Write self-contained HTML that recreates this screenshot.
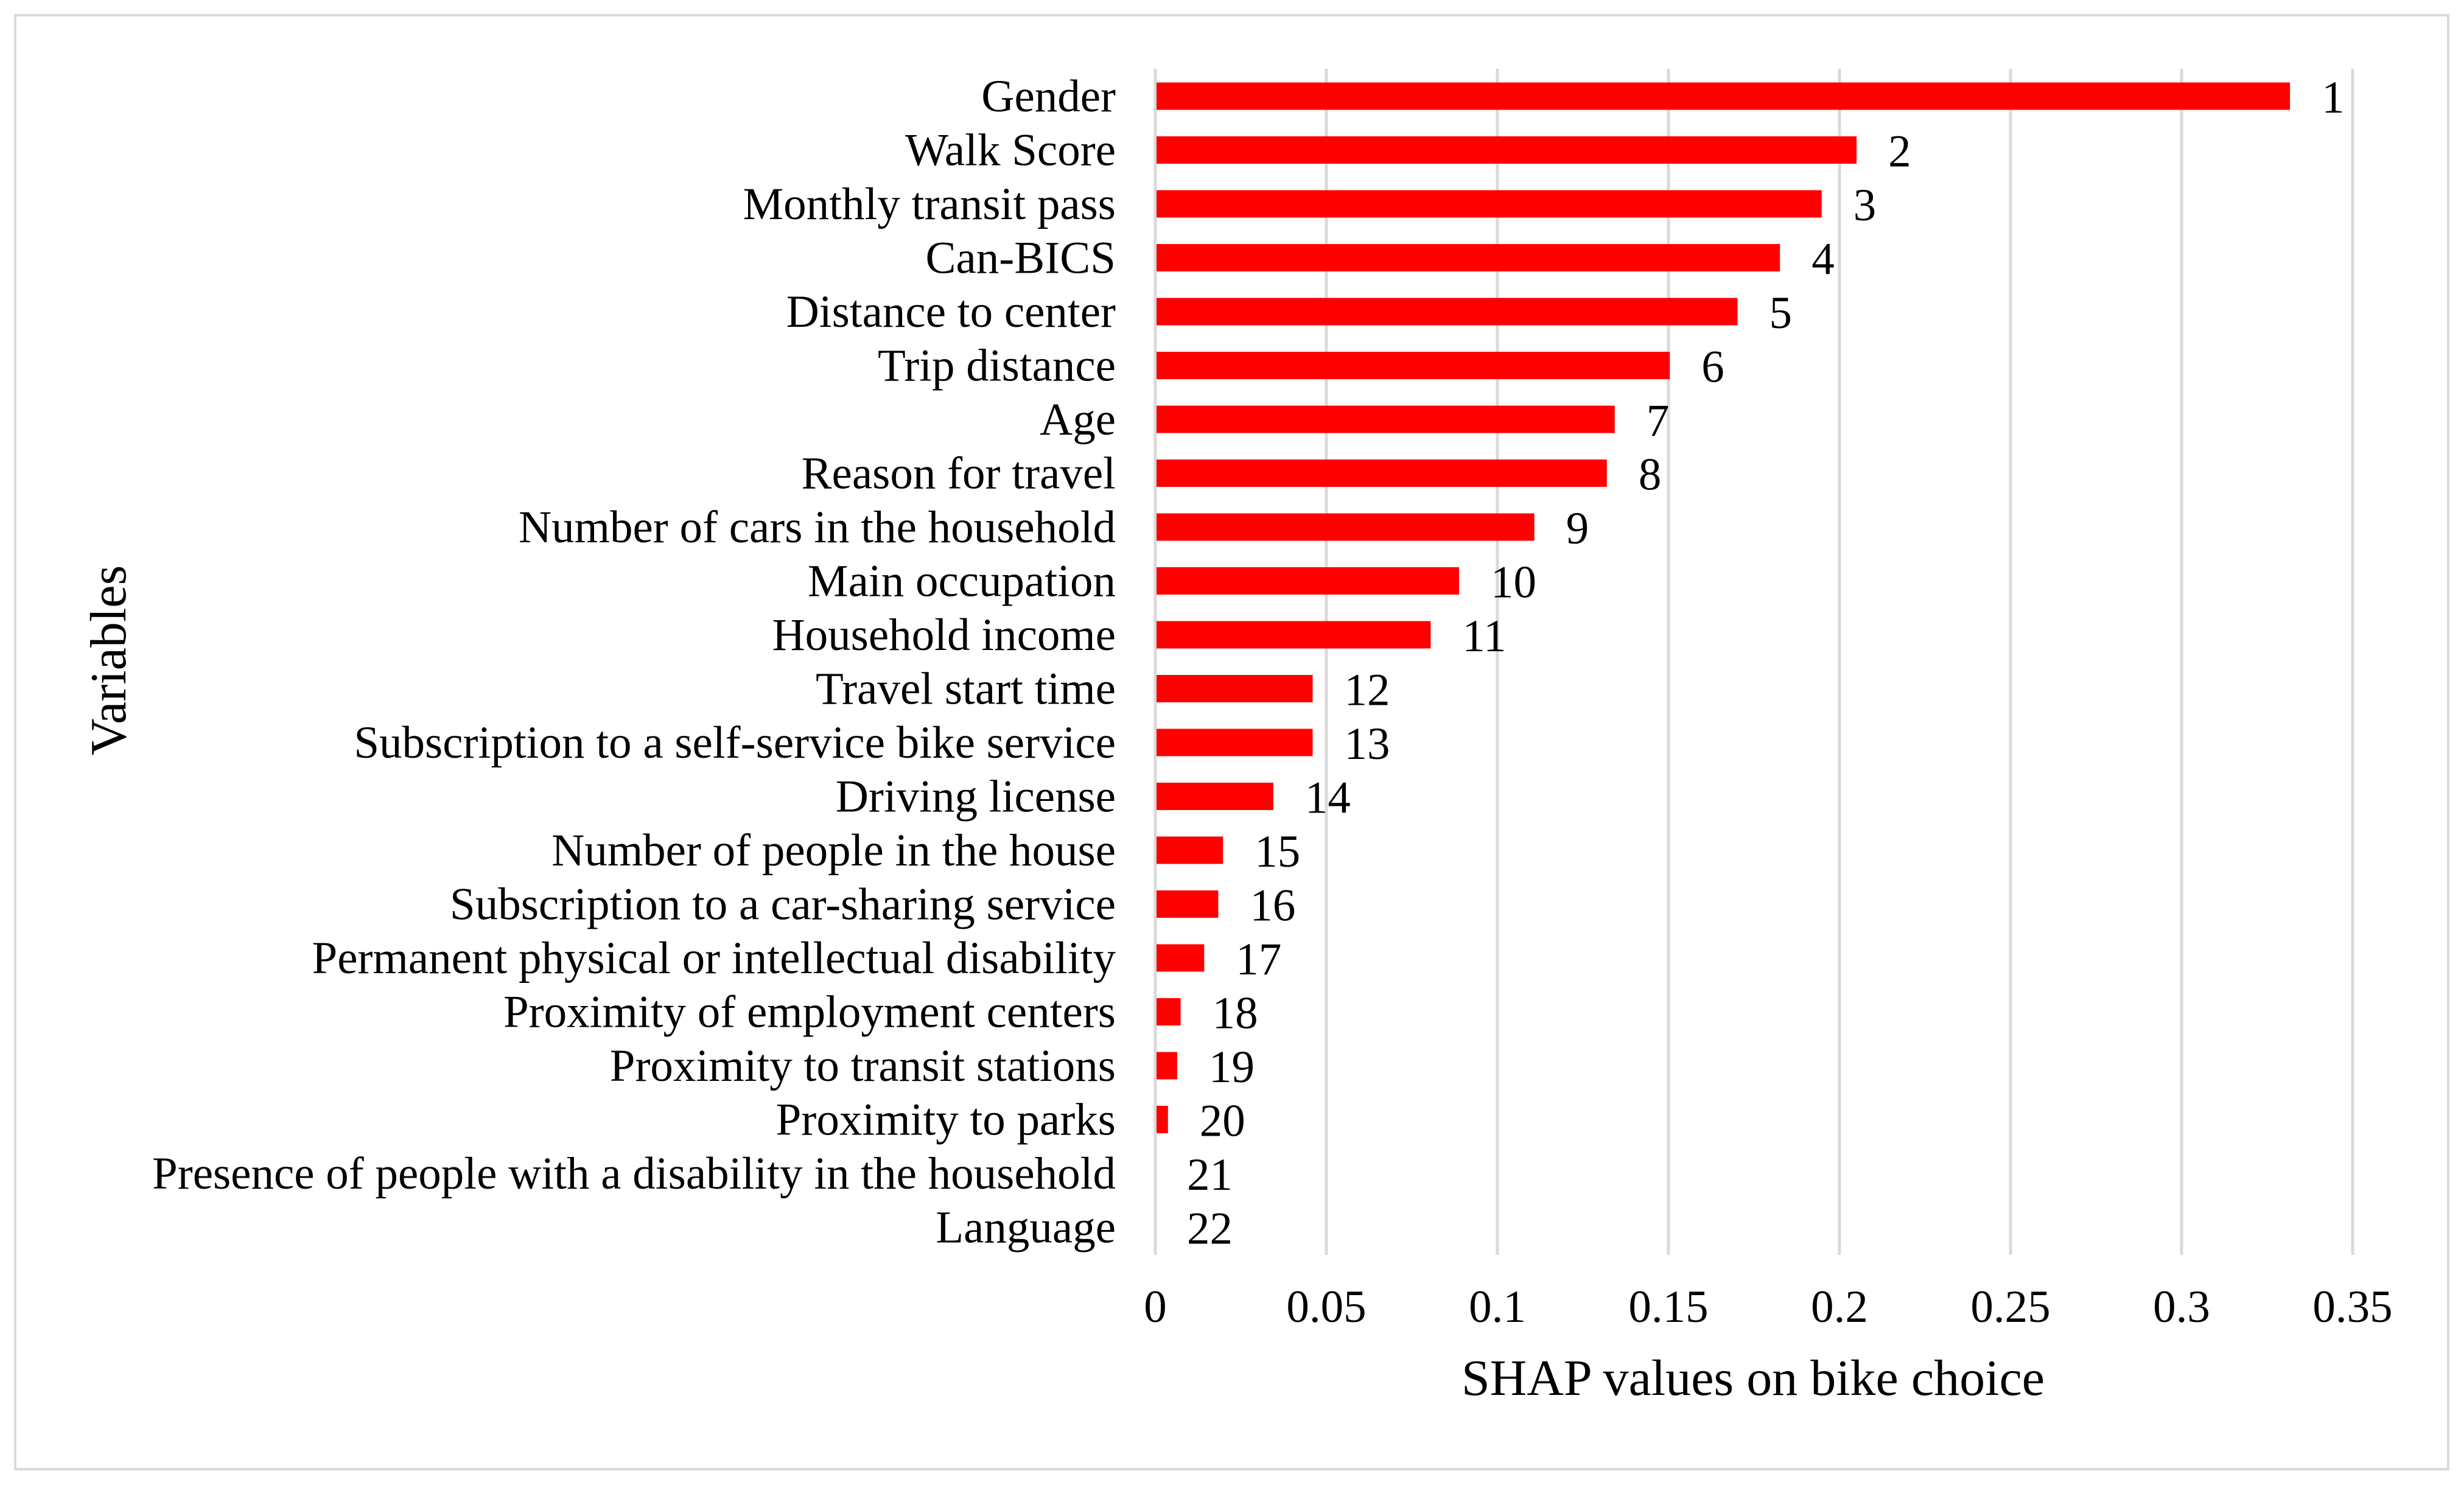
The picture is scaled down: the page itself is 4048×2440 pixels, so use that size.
<!DOCTYPE html>
<html><head><meta charset="utf-8"><style>
html,body{margin:0;padding:0;background:#fff}
svg{display:block}
text{font-family:"Liberation Serif",serif;fill:#000}
</style></head><body>
<svg id="chart" width="4048" height="2440" viewBox="0 0 4048 2440" xmlns="http://www.w3.org/2000/svg">
<rect x="25" y="25" width="3997" height="2389" fill="#fff" stroke="#d9d9d9" stroke-width="4"/>
<g id="grid"></g><g id="bars"></g><g id="labels"></g><g id="ticks"></g>
<text x="2880" y="2292" font-size="84" text-anchor="middle">SHAP values on bike choice</text>
<text transform="translate(206,1085) rotate(-90)" font-size="84" text-anchor="middle">Variables</text>
</svg>
<script>
const categories=["Gender","Walk Score","Monthly transit pass","Can-BICS","Distance to center","Trip distance","Age","Reason for travel ","Number of cars in the household","Main occupation","Household income","Travel start time","Subscription to a self-service bike service","Driving license","Number of people in the house","Subscription to a car-sharing service","Permanent physical or intellectual disability","Proximity of employment centers","Proximity to transit stations","Proximity to parks","Presence of people with a disability in the household","Language"];
const values=[0.3317,0.205,0.1948,0.1826,0.1702,0.1504,0.1343,0.132,0.1108,0.0888,0.0805,0.046,0.046,0.0345,0.0198,0.0184,0.0143,0.0074,0.0064,0.0037,0,0];
const ranks=["1","2","3","4","5","6","7","8","9","10","11","12","13","14","15","16","17","18","19","20","21","22"];
const ticks=[0,0.05,0.1,0.15,0.2,0.25,0.3,0.35];
const tickLabels=["0","0.05","0.1","0.15","0.2","0.25","0.3","0.35"];
const NS="http://www.w3.org/2000/svg";
const X0=1898,X1=3865,VMAX=0.35,Y0=158,STEP=88.5,BH=45;
const xs=v=>X0+(X1-X0)*v/VMAX;
const ys=i=>Y0+STEP*i;
function mk(tag,attrs,parent){const e=document.createElementNS(NS,tag);for(const k in attrs)e.setAttribute(k,attrs[k]);document.getElementById(parent).appendChild(e);return e;}
ticks.forEach((t,i)=>{
  const g=mk('line',{x1:xs(t),x2:xs(t),y1:113,y2:2062,stroke:'#d9d9d9','stroke-width':5},'grid');
  
  
  const tl=mk('text',{x:xs(t),y:2172,'font-size':75,'text-anchor':'middle'},'ticks');
  tl.textContent=tickLabels[i];
  
  
});
categories.forEach((c,i)=>{
  const cy=ys(i);
  const b=mk('rect',{x:xs(0)+2,y:cy-BH/2,width:Math.max(0,xs(values[i])-xs(0)-2),height:BH,fill:'#ff0000'},'bars');
  
  
  const l=mk('text',{x:1833,y:cy+25,'font-size':75,'text-anchor':'end'},'labels');
  l.textContent=c;
  
  
  const r=mk('text',{x:xs(values[i])+52,y:cy+27,'font-size':75},'labels');
  r.textContent=ranks[i];
  
  
});
</script>
</body></html>
